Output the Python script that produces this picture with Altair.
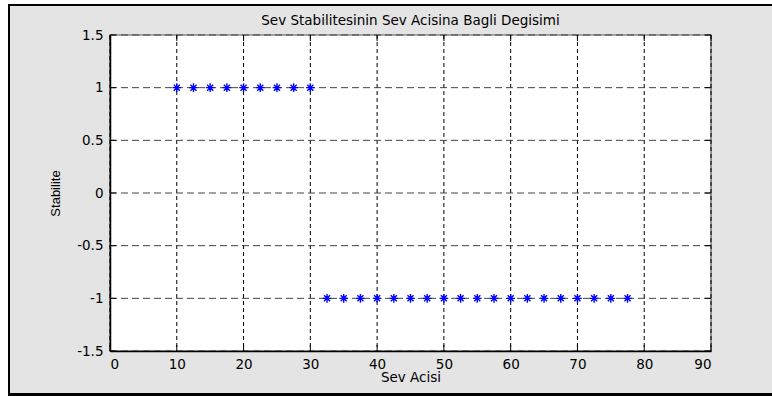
import altair as alt
import pandas as pd

# ---- data ----
x_pos = [10, 12.5, 15, 17.5, 20, 22.5, 25, 27.5, 30]
y_pos = [1, 1, 1, 1, 1, 1, 1, 1, 1]
x_neg = [32.5, 35, 37.5, 40, 42.5, 45, 47.5, 50, 52.5, 55, 57.5, 60, 62.5,
         65, 67.5, 70, 72.5, 75, 77.5]
y_neg = [-1, -1, -1, -1, -1, -1, -1, -1, -1, -1, -1, -1, -1, -1, -1, -1, -1, -1, -1]
x_ticks = [0, 10, 20, 30, 40, 50, 60, 70, 80, 90]
y_ticks = [-1.5, -1, -0.5, 0, 0.5, 1, 1.5]

title_text = "Sev Stabilitesinin Sev Acisina Bagli Degisimi"
x_title = "Sev Acisi"
y_title = "Stabilite"

W, H = 601, 316

pts = pd.DataFrame({"x": x_pos + x_neg, "y": y_pos + y_neg})
xt = pd.DataFrame({"v": x_ticks})
yt = pd.DataFrame({"v": y_ticks})
one = pd.DataFrame({"t": [title_text]})

xs = alt.Scale(domain=[0, 90], nice=False, zero=False)
ys = alt.Scale(domain=[-1.5, 1.5], nice=False, zero=False)

FONT = "DejaVu Sans"

RIGHT = W + 80  # beyond the right edge of the picture


def block(x, x2, y, y2, color):
    return alt.Chart(one).mark_rect(fill=color, strokeWidth=0).encode(
        x=alt.value(x), x2=alt.value(x2), y=alt.value(y), y2=alt.value(y2))


# figure frame: gray fill plus black border on top, left and bottom
frame = block(-102, RIGHT, -31, 361, "#e4e4e4")
b_top = block(-102, RIGHT, -31, -29, "black")
b_left = block(-102, -100, -31, 361, "black")
b_bot = block(-102, RIGHT, 358, 361, "black")

# white plot area
plotbg = alt.Chart(one).mark_rect(fill="white", stroke="#555555", strokeWidth=1.2).encode(
    x=alt.value(0), x2=alt.value(W), y=alt.value(0), y2=alt.value(H)
)

vgrid = alt.Chart(xt).mark_rule(color="black", strokeWidth=1, strokeDash=[4, 3]).encode(
    x=alt.X("v:Q", scale=xs,
            axis=alt.Axis(values=x_ticks, format="d", title=x_title, grid=False,
                          ticks=False, domain=True, domainColor="black", domainWidth=1.5,
                          labelFont=FONT, labelFontSize=13.5, labelColor="black",
                          labelPadding=6, titleFont=FONT, titleFontSize=13.5,
                          titleFontWeight="normal", titleColor="black", titlePadding=0,
                          zindex=1)),
    y=alt.value(0), y2=alt.value(H)
)
hgrid = alt.Chart(yt).mark_rule(color="#444444", strokeWidth=1, strokeDash=[7, 4]).encode(
    y=alt.Y("v:Q", scale=ys,
            axis=alt.Axis(values=y_ticks, labelExpr="'' + datum.value", title=y_title,
                          grid=False, ticks=False, domain=True, domainColor="black",
                          domainWidth=1.5, labelFont=FONT, labelFontSize=13.5,
                          labelColor="black", labelPadding=7,
                          titleFont="Liberation Sans", titleFontSize=13,
                          titleFontWeight="normal", titleColor="black", titlePadding=14,
                          zindex=1)),
    x=alt.value(0), x2=alt.value(W)
)

# inward tick marks
ytick_l = alt.Chart(yt).mark_rule(color="black", strokeWidth=1).encode(
    y=alt.Y("v:Q", scale=ys), x=alt.value(0), x2=alt.value(6))
ytick_r = alt.Chart(yt).mark_rule(color="black", strokeWidth=1).encode(
    y=alt.Y("v:Q", scale=ys), x=alt.value(W - 6), x2=alt.value(W))
xtick_b = alt.Chart(xt).mark_rule(color="black", strokeWidth=1).encode(
    x=alt.X("v:Q", scale=xs), y=alt.value(H - 6), y2=alt.value(H))
xtick_t = alt.Chart(xt).mark_rule(color="black", strokeWidth=1).encode(
    x=alt.X("v:Q", scale=xs), y=alt.value(0), y2=alt.value(6))

star = "M-1,0L1,0M0,-1L0,1M-0.7,-0.7L0.7,0.7M-0.7,0.7L0.7,-0.7"
points = alt.Chart(pts).mark_point(shape=star, filled=False, color="#0000ff",
                                   strokeWidth=1.4, size=75, opacity=1).encode(
    x=alt.X("x:Q", scale=xs), y=alt.Y("y:Q", scale=ys)
)

title = alt.Chart(one).mark_text(font=FONT, fontSize=13.5, color="black",
                                 align="center", baseline="alphabetic").encode(
    text="t:N", x=alt.value(W / 2), y=alt.value(-10)
)

chart = alt.layer(frame, b_top, b_left, b_bot, plotbg, vgrid, hgrid,
                  ytick_l, ytick_r, xtick_b, xtick_t, points, title).properties(
    width=W, height=H,
    padding={"left": 110, "top": 35, "right": 61, "bottom": 45},
    autosize=alt.AutoSizeParams(type="none"),
    background="white",
).configure_view(stroke=None).resolve_scale(x="shared", y="shared")

chart.save("out.html", embed_options={"renderer": "svg", "actions": False})
